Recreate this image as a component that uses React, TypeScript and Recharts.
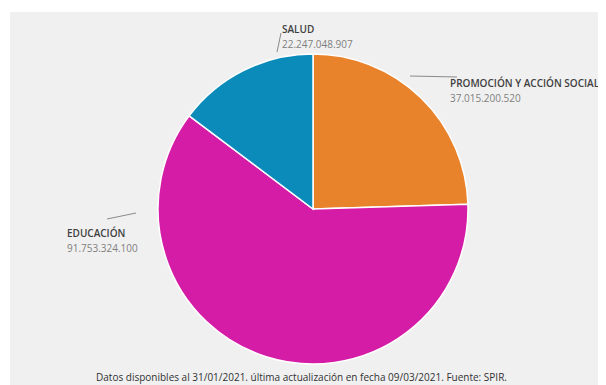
import React from 'react';
import { PieChart, Pie, Cell } from 'recharts';

// Datos de la gráfica
const categories = ['PROMOCIÓN Y ACCIÓN SOCIAL', 'EDUCACIÓN', 'SALUD'];
const amounts = [37015200520, 91753324100, 22247048907];
const amountLabels = ['37.015.200.520', '91.753.324.100', '22.247.048.907'];
const sliceColors = ['#E9832B', '#D51CA6', '#0B8BBA'];
const footerText =
  'Datos disponibles al 31/01/2021. última actualización en fecha 09/03/2021. Fuente: SPIR.';

const data = categories.map((name, i) => ({
  name,
  value: amounts[i],
  label: amountLabels[i],
}));

// posición de etiquetas relativa al centro del gráfico
const LABEL_LAYOUT: Record<string, { tx: number; ty: number; line: [number, number, number, number] }> = {
  'PROMOCIÓN Y ACCIÓN SOCIAL': { tx: 137, ty: -122, line: [97, -133, 144, -132] },
  EDUCACIÓN: { tx: -246, ty: 28, line: [-206, 10, -177, 4] },
  SALUD: { tx: -31, ty: -176, line: [-36, -157, -32, -176] },
};

const FONT = '"Open Sans", sans-serif';

const renderLabel = (props: any) => {
  const { cx, cy, payload, index } = props;
  const name = payload?.name ?? categories[index];
  const lay = LABEL_LAYOUT[name];
  if (!lay) return null;
  const [x1, y1, x2, y2] = lay.line;
  return (
    <g>
      <line x1={cx + x1} y1={cy + y1} x2={cx + x2} y2={cy + y2} stroke="#8a8a8a" strokeWidth={1} />
      <text x={cx + lay.tx} y={cy + lay.ty} fill="#404040" fontSize={10} fontWeight={600} fontFamily={FONT}>
        {name}
      </text>
      <text x={cx + lay.tx} y={cy + lay.ty + 15} fill="#7f7f7f" fontSize={10} fontFamily={FONT}>
        {payload?.label ?? amountLabels[index]}
      </text>
    </g>
  );
};

const App = () => {
  return (
    <div style={{ position: 'relative', width: 598, height: 377 }}>
      <div
        style={{
          position: 'absolute',
          left: 2,
          top: 4,
          width: 596,
          height: 373,
          background: '#f0f0f0',
        }}
      >
        <PieChart width={596} height={373} margin={{ top: 0, right: 0, bottom: 0, left: 0 }}>
          <Pie
            data={data}
            dataKey="value"
            nameKey="name"
            cx={303}
            cy={197}
            outerRadius={155}
            startAngle={90}
            endAngle={-270}
            stroke="#ffffff"
            strokeWidth={1.5}
            labelLine={false}
            label={renderLabel}
            isAnimationActive={false}
          >
            {data.map((_d, i) => (
              <Cell key={`cell-${i}`} fill={sliceColors[i]} />
            ))}
          </Pie>
        </PieChart>
        <div
          style={{
            position: 'absolute',
            left: 0,
            width: 583,
            top: 358,
            textAlign: 'center',
            fontFamily: FONT,
            fontSize: 10,
            color: '#303030',
            whiteSpace: 'nowrap',
          }}
        >
          {footerText}
        </div>
      </div>
    </div>
  );
};

export default App;
